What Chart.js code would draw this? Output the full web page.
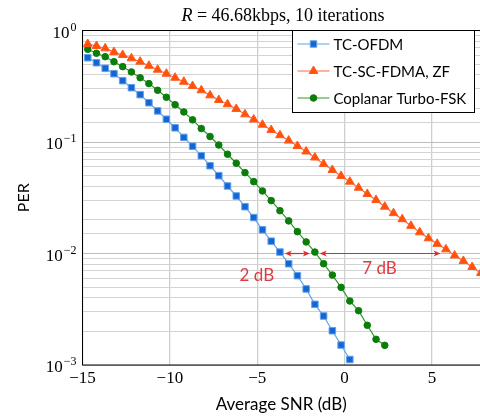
<!DOCTYPE html>
<html>
<head>
<meta charset="utf-8">
<script src="https://cdn.jsdelivr.net/npm/chart.js@4.4.1/dist/chart.umd.min.js"></script>
<style>
  html, body { margin: 0; padding: 0; background: #fff; }
</style>
</head>
<body>
<canvas id="perChart" width="480" height="416"></canvas>
<script>
// SNR points (dB), shared by all three curves
const snr = [-14.7, -14.2, -13.7, -13.2, -12.7, -12.2, -11.7, -11.2, -10.7, -10.2,
             -9.7, -9.2, -8.7, -8.2, -7.7, -7.2, -6.7, -6.2, -5.7, -5.2,
             -4.7, -4.2, -3.7, -3.2, -2.7, -2.2, -1.7, -1.2, -0.7, -0.2,
             0.3, 0.8, 1.3, 1.8, 2.3, 2.8, 3.3, 3.8, 4.3, 4.8,
             5.3, 5.8, 6.3, 6.8, 7.3, 7.8];

// PER values
const perOfdm = [0.570, 0.514, 0.458, 0.410, 0.355, 0.307, 0.266, 0.225, 0.190, 0.160,
                 0.134, 0.110, 0.0917, 0.0752, 0.0613, 0.0499, 0.0403, 0.0328, 0.0263, 0.0210,
                 0.0163, 0.0129, 0.0103, 0.0081, 0.00633, 0.00481, 0.00350, 0.00275, 0.00203, 0.00151,
                 0.00112];
const perScfdma = [0.757, 0.726, 0.692, 0.641, 0.603, 0.563, 0.525, 0.483, 0.445, 0.410,
                   0.377, 0.347, 0.318, 0.291, 0.262, 0.238, 0.218, 0.198, 0.177, 0.159,
                   0.143, 0.128, 0.115, 0.103, 0.0921, 0.0822, 0.0726, 0.0635, 0.0561, 0.0496,
                   0.0441, 0.0389, 0.0342, 0.0302, 0.0263, 0.0230, 0.0203, 0.0177, 0.0155, 0.0137,
                   0.0122, 0.0109, 0.00960, 0.00857, 0.00757, 0.00668];
const perTurboFsk = [0.678, 0.625, 0.582, 0.525, 0.474, 0.425, 0.377, 0.334, 0.291, 0.252,
                     0.216, 0.186, 0.158, 0.132, 0.112, 0.0940, 0.0777, 0.0645, 0.0531, 0.0441,
                     0.0364, 0.0298, 0.0242, 0.0196, 0.0157, 0.0127, 0.0103, 0.0081, 0.00641, 0.00497,
                     0.00375, 0.00307, 0.00227, 0.00170, 0.00150];

const seriesNames = ['TC-OFDM', 'TC-SC-FDMA, ZF', 'Coplanar Turbo-FSK'];
const xTicks = [-15, -10, -5, 0, 5];
const yDecades = [0, -1, -2, -3];

// gap annotations: [x start, x end] at PER = 1e-2, label position [x, PER]
const gapArrows = [[-3.42, -1.99], [-1.42, 5.49]];
const gapLevel = 0.01;
const gapLabels = ['2 dB', '7 dB'];
const gapLabelPos = [[-5.02, 0.0063], [2.0, 0.0074]];

const SERIF = '"Liberation Serif", "DejaVu Serif", serif';
const SANS = 'Lato, "Noto Sans", sans-serif';

const toPoints = (ys) => ys.map((y, i) => ({ x: snr[i], y }));

const decor = {
    id: 'decor',
    afterDatasetsDraw(chart) {
        const { ctx, chartArea: a, scales: { x, y } } = chart;
        ctx.save();

        // frame (right side runs off the canvas)
        ctx.strokeStyle = '#000';
        ctx.lineWidth = 1;
        ctx.strokeRect(a.left, a.top, a.right - a.left + 2, a.bottom - a.top);

        // y tick labels 10^k
        ctx.fillStyle = '#000';
        ctx.textBaseline = 'alphabetic';
        yDecades.forEach(k => {
            const py = y.getPixelForValue(Math.pow(10, k));
            const exp = String(k).replace('-', '\u2212');
            ctx.font = '12px ' + SERIF;
            const ew = ctx.measureText(exp).width;
            ctx.textAlign = 'right';
            ctx.fillText(exp, a.left - 6, py + 0);
            ctx.font = '17px ' + SERIF;
            ctx.fillText('10', a.left - 7 - ew, py + 7);
        });

        // title
        const t1 = 'R';
        const t2 = ' = 46.68kbps, 10 iterations';
        ctx.font = '18px ' + SERIF;
        const w2 = ctx.measureText(t2).width;
        ctx.font = 'italic 18px ' + SERIF;
        const w1 = ctx.measureText(t1).width;
        const tx = 283 - (w1 + w2) / 2;
        ctx.textAlign = 'left';
        ctx.fillText(t1, tx, 21);
        ctx.font = '18px ' + SERIF;
        ctx.fillText(t2, tx + w1, 21);

        // gap arrows
        const py = y.getPixelForValue(gapLevel);
        ctx.strokeStyle = '#e02a2a';
        ctx.fillStyle = '#e02a2a';
        ctx.lineWidth = 1.2;
        gapArrows.forEach(([x0, x1]) => {
            const p0 = x.getPixelForValue(x0), p1 = x.getPixelForValue(x1);
            ctx.beginPath();
            ctx.moveTo(p0 + 3, py);
            ctx.lineTo(p1 - 3, py);
            ctx.stroke();
            [[p0, 1], [p1, -1]].forEach(([p, d]) => {
                ctx.beginPath();
                ctx.moveTo(p, py);
                ctx.lineTo(p + d * 7, py - 3);
                ctx.lineTo(p + d * 5, py);
                ctx.lineTo(p + d * 7, py + 3);
                ctx.closePath();
                ctx.fill();
            });
        });
        ctx.fillStyle = '#e03a40';
        ctx.font = '17px ' + SANS;
        ctx.textAlign = 'center';
        ctx.textBaseline = 'middle';
        gapLabels.forEach((txt, i) => {
            ctx.fillText(txt, x.getPixelForValue(gapLabelPos[i][0]), y.getPixelForValue(gapLabelPos[i][1]));
        });

        // legend box
        const lx = 292.5, ly = a.top, lw = 182, lh = 82;
        ctx.fillStyle = '#fff';
        ctx.fillRect(lx, ly, lw, lh);
        ctx.strokeStyle = '#000';
        ctx.lineWidth = 1;
        ctx.strokeRect(lx, ly, lw, lh);
        chart.data.datasets.forEach((ds, i) => {
            const cy = ly + 13.5 + i * 27;
            ctx.strokeStyle = ds.borderColor;
            ctx.lineWidth = 1.2;
            ctx.beginPath();
            ctx.moveTo(lx + 5, cy);
            ctx.lineTo(lx + 37, cy);
            ctx.stroke();
            ctx.fillStyle = ds.pointBackgroundColor;
            ctx.strokeStyle = ds.pointBorderColor;
            ctx.lineWidth = 1;
            Chart.helpers.drawPoint(ctx, {
                pointStyle: ds.pointStyle, radius: ds.pointRadius, borderWidth: 1, rotation: 0
            }, lx + 21, cy);
            ctx.fillStyle = '#000';
            ctx.font = '15px ' + SANS;
            ctx.textAlign = 'left';
            ctx.textBaseline = 'middle';
            ctx.fillText(ds.label, lx + 41, cy + 1);
        });

        ctx.restore();
    }
};

const isDecade = v => Math.abs(Math.log10(v) - Math.round(Math.log10(v))) < 1e-6;

new Chart(document.getElementById('perChart'), {
    type: 'line',
    data: {
        datasets: [
            {
                label: seriesNames[0],
                data: toPoints(perOfdm),
                borderColor: '#62a2e8',
                pointBackgroundColor: '#1466d6',
                pointBorderColor: '#62a2e8',
                pointStyle: 'rect',
                pointRadius: 4.6,
                borderWidth: 1.2,
                pointBorderWidth: 1
            },
            {
                label: seriesNames[1],
                data: toPoints(perScfdma),
                borderColor: '#ff6a3a',
                pointBackgroundColor: '#ff5208',
                pointBorderColor: '#ff5a20',
                pointStyle: 'triangle',
                pointRadius: 5,
                borderWidth: 1.2,
                pointBorderWidth: 1
            },
            {
                label: seriesNames[2],
                data: toPoints(perTurboFsk),
                borderColor: '#2a9a2a',
                pointBackgroundColor: '#0a7d0a',
                pointBorderColor: '#0a7d0a',
                pointStyle: 'circle',
                pointRadius: 3.3,
                borderWidth: 1.2,
                pointBorderWidth: 1
            }
        ]
    },
    options: {
        responsive: false,
        animation: false,
        layout: { autoPadding: false, padding: { top: 30.5, right: 0, left: 0, bottom: 0 } },
        plugins: {
            legend: { display: false },
            tooltip: { enabled: false }
        },
        scales: {
            x: {
                type: 'linear',
                min: -15,
                max: 7.75,
                afterBuildTicks: s => { s.ticks = xTicks.map(v => ({ value: v })); },
                afterFit: s => { s.height = 51; s.paddingLeft = 0; s.paddingRight = 0; },
                ticks: {
                    color: '#000',
                    font: { family: SERIF, size: 17 },
                    padding: 3,
                    maxRotation: 0,
                    callback: v => String(v).replace('-', '\u2212')
                },
                grid: { color: '#cfcfcf', lineWidth: 1.3, drawTicks: false },
                border: { display: false },
                title: {
                    display: true,
                    text: 'Average SNR (dB)',
                    color: '#000',
                    font: { family: SANS, size: 17 },
                    padding: { top: 0, bottom: 1 }
                }
            },
            y: {
                type: 'logarithmic',
                min: 0.001,
                max: 1,
                afterFit: s => { s.width = 82.5; s.paddingTop = 0; s.paddingBottom = 0; },
                ticks: {
                    autoSkip: false,
                    callback: () => ''
                },
                grid: {
                    color: c => isDecade(c.tick.value) ? '#bdbdbd' : '#d3d3d3',
                    lineWidth: 1,
                    drawTicks: false
                },
                border: { display: false },
                title: {
                    display: true,
                    text: 'PER',
                    color: '#000',
                    font: { family: SANS, size: 16 },
                    padding: { top: 14, bottom: 0 }
                }
            }
        }
    },
    plugins: [decor]
});
</script>
</body>
</html>
